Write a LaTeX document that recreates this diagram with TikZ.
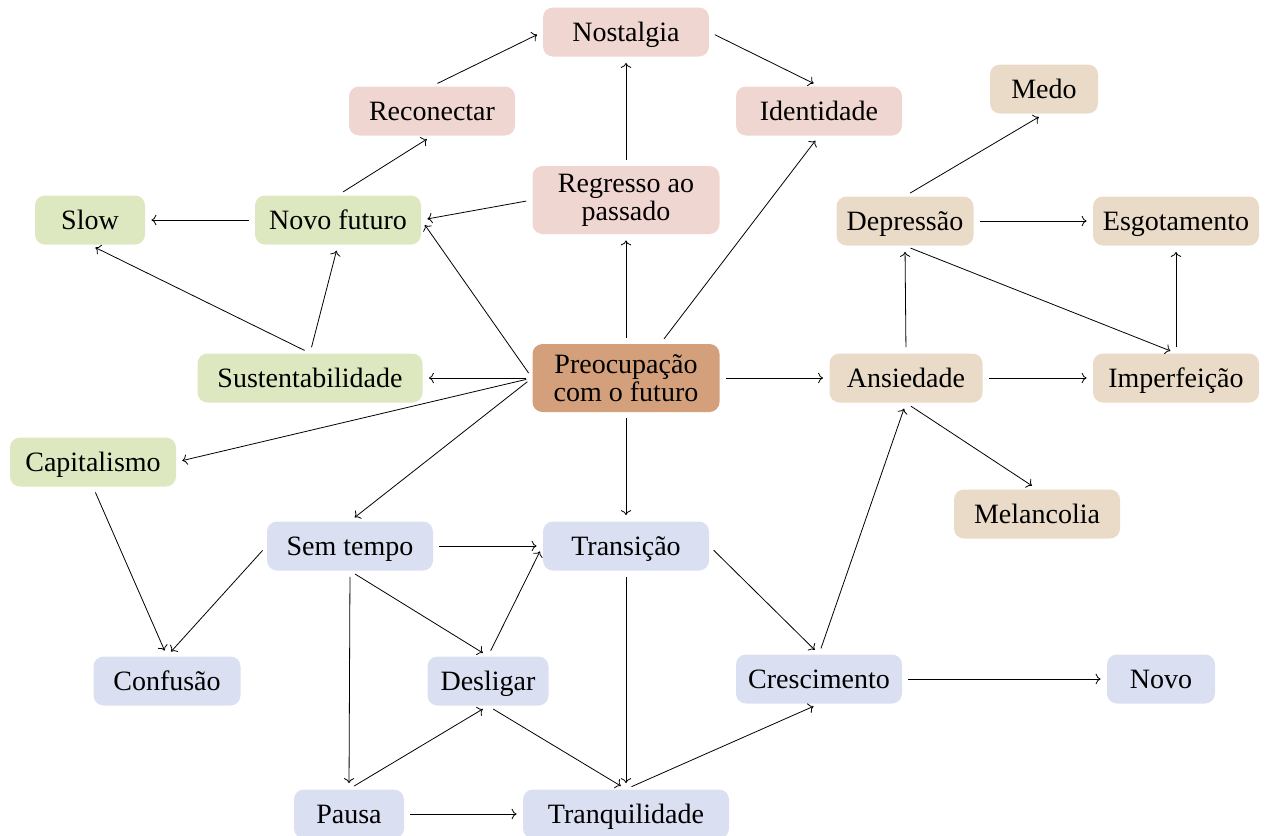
\documentclass[tikz,border=0pt]{standalone}
\usepackage{fontspec}
\setmainfont{Liberation Serif}
\usepackage{xcolor}
\usetikzlibrary{calc}
\usetikzlibrary{arrows.meta}

\definecolor{rosa}{RGB}{240,214,208}
\definecolor{verde}{RGB}{221,232,192}
\definecolor{bege}{RGB}{234,219,200}
\definecolor{lilas}{RGB}{218,223,242}
\definecolor{centro}{RGB}{212,160,124}

\begin{document}
\begin{tikzpicture}[x=0.5pt,y=-0.5pt]

\tikzset{
    box/.style = {
    rounded corners=5pt,
    minimum height=24.5pt,
    minimum width=83pt,
    inner sep=2pt,
    align=center,
    font=\fontsize{14}{14}\selectfont
    },
    linha/.style = {text height=11pt, text depth=1.5pt},
    seta/.style = {->, shorten >=3pt, shorten <=3pt}
}

\tikzstyle{passado}=[fill=rosa, box]
\tikzstyle{futuro}=[fill=verde, box, linha]
\tikzstyle{emocao}=[fill=bege, box, linha]
\tikzstyle{tempo}=[fill=lilas, box, linha]
\tikzstyle{tema}=[fill=centro, box, minimum height=34pt, minimum width=93.5pt]

\useasboundingbox (0,0) rectangle (1265,836);

% centro
\node (preoc) [tema] at (626,378) {Preocupação\\com o futuro};

% passado
\node (nost) [passado, linha] at (626,32) {Nostalgia};
\node (recon) [passado, linha] at (432,111) {Reconectar};
\node (ident) [passado, linha] at (819,111) {Identidade};
\node (regr) [passado, minimum height=34pt, minimum width=93.5pt] at (626,200) {Regresso ao\\passado};

% futuro
\node (novof) [futuro] at (338,220) {Novo futuro};
\node (slow) [futuro, minimum width=55pt] at (90,220) {Slow};
\node (sust) [futuro, minimum width=112.5pt] at (310,378) {Sustentabilidade};
\node (capit) [futuro] at (93,462) {Capitalismo};

% emocoes
\node (medo) [emocao, minimum width=54pt] at (1044,89) {Medo};
\node (depr) [emocao, minimum width=68.5pt] at (905,221) {Depressão};
\node (esgot) [emocao] at (1176,221) {Esgotamento};
\node (ansi) [emocao, minimum width=76.5pt] at (906,378) {Ansiedade};
\node (imperf) [emocao] at (1176,378) {Imperfeição};
\node (melan) [emocao] at (1037,514) {Melancolia};

% tempo
\node (semt) [tempo] at (350,546) {Sem tempo};
\node (trans) [tempo] at (626,546) {Transição};
\node (conf) [tempo, minimum width=73.5pt] at (167,681) {Confusão};
\node (desl) [tempo, minimum width=60.5pt] at (488,681) {Desligar};
\node (cresc) [tempo] at (819,679) {Crescimento};
\node (novo) [tempo, minimum width=54pt] at (1161,679) {Novo};
\node (pausa) [tempo, minimum width=55pt] at (349,814) {Pausa};
\node (tranq) [tempo, minimum width=103pt] at (626,814) {Tranquilidade};

% ligacoes
\draw [seta] (regr.north) -- (nost.south);
\draw [seta] (recon.north) -- (nost.west);
\draw [seta] (nost.east) -- (ident.north);
\draw [seta] (novof.north) -- (recon.south);
\draw [seta] (regr.west) -- (novof.east);
\draw [seta] (novof.west) -- (slow.east);
\draw [seta] (sust.north) -- (novof.south);
\draw [seta] (sust.north) -- (slow.south);

\draw [seta] (preoc.north) -- (regr.south);
\draw [seta] (preoc.45) -- (ident.south);
\draw [seta] (preoc.west) -- (novof.east);
\draw [seta] (preoc.west) -- (sust.east);
\draw [seta] (preoc.west) -- (capit.east);
\draw [seta] (preoc.west) -- (semt.north);
\draw [seta] (preoc.south) -- (trans.north);
\draw [seta] (preoc.east) -- (ansi.west);

\draw [seta] (ansi.north) -- (depr.south);
\draw [seta] (ansi.east) -- (imperf.west);
\draw [seta] (depr.east) -- (esgot.west);
\draw [seta] (depr.south) -- (imperf.north);
\draw [seta] (imperf.north) -- (esgot.south);
\draw [seta] (depr.north) -- (medo.south);
\draw [seta] (ansi.south) -- (melan.north);

\draw [seta] (capit.south) -- (conf.north);
\draw [seta] (semt.west) -- (conf.north);
\draw [seta] (semt.east) -- (trans.west);
\draw [seta] (semt.south) -- (desl.north);
\draw [seta] (semt.south) -- (pausa.north);
\draw [seta] (desl.north) -- (trans.west);
\draw [seta] (pausa.north) -- (desl.south);
\draw [seta] (desl.south) -- (tranq.north);
\draw [seta] (trans.south) -- (tranq.north);
\draw [seta] (pausa.east) -- (tranq.west);
\draw [seta] (tranq.north) -- (cresc.south);
\draw [seta] (trans.east) -- (cresc.north);
\draw [seta] (cresc.north) -- (ansi.south);
\draw [seta] (cresc.east) -- (novo.west);

\end{tikzpicture}
\end{document}
